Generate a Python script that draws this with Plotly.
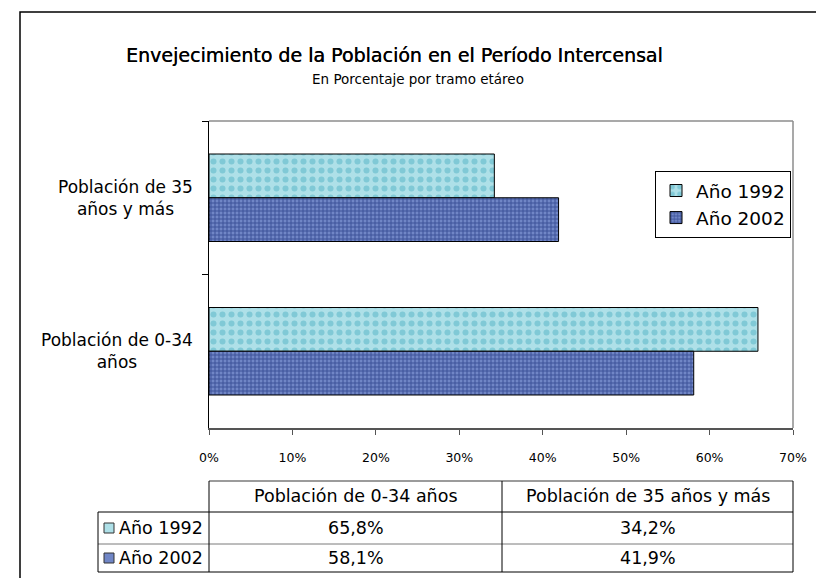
import plotly.graph_objects as go

# ---- data ----
categories = ["Población de 0-34 años", "Población de 35 años y más"]
series_names = ["Año 1992", "Año 2002"]
values_1992 = [65.8, 34.2]
values_2002 = [58.1, 41.9]
x_ticks = [0, 10, 20, 30, 40, 50, 60, 70]
title_text = "Envejecimiento de la Población en el Período Intercensal"
subtitle_text = "En Porcentaje por tramo etáreo"
y_label_lines = {"Población de 0-34 años": "Población de 0-34<br>años",
                 "Población de 35 años y más": "Población de 35<br>años y más"}

W, H = 824, 578
L, R, T, B = 201, 785, 113, 420  # plot area in pixels
FONT = "DejaVu Sans"

def xp(px):
    return (px - L) / (R - L)

def yp(py):
    return (B - py) / (B - T)

styles = [
    dict(bg="#aee0e8", fg="#80c9d6", shape=".", size=9, solidity=0.35),
    dict(bg="#7086c6", fg="#3d5299", shape="+", size=4, solidity=0.45),
]

fig = go.Figure()
for name, vals, st in zip(series_names, [values_1992, values_2002], styles):
    fig.add_trace(go.Bar(
        y=categories, x=vals, name=name, orientation="h",
        marker=dict(color=st["bg"], line=dict(color="black", width=1),
                    pattern=dict(shape=st["shape"], fgcolor=st["fg"], bgcolor=st["bg"],
                                 size=st["size"], solidity=st["solidity"], fillmode="replace")),
        hoverinfo="skip",
    ))

shapes = []
annotations = []

# outer frame
shapes.append(dict(type="rect", xref="paper", yref="paper",
                   x0=xp(12), x1=xp(819), y0=yp(4), y1=yp(640),
                   line=dict(color="black", width=1.5), fillcolor="rgba(0,0,0,0)", layer="above"))
# plot area top/right border (gray)
shapes.append(dict(type="line", xref="paper", yref="paper", x0=0, x1=1, y0=1, y1=1,
                   line=dict(color="#8c8c8c", width=1.5)))
shapes.append(dict(type="line", xref="paper", yref="paper", x0=1, x1=1, y0=0, y1=1,
                   line=dict(color="#8c8c8c", width=1.5)))

# titles
annotations.append(dict(text=title_text, xref="paper", yref="paper", x=xp(386), y=yp(47),
                        showarrow=False,
                        font=dict(family=FONT, size=19, color="black", shadow="0.3px 0px 0px black"),
                        xanchor="center", yanchor="middle"))
annotations.append(dict(text=subtitle_text, xref="paper", yref="paper", x=xp(410), y=yp(71),
                        showarrow=False, font=dict(family=FONT, size=13.5, color="black"),
                        xanchor="center", yanchor="middle"))

# y category labels (centered multi-line)
for c in categories:
    annotations.append(dict(text=y_label_lines[c], xref="paper", yref="y", x=xp(187), y=c,
                            showarrow=False, xanchor="right", yanchor="middle", align="center",
                            font=dict(family=FONT, size=17, color="black")))

# ---- data table ----
tx0, tlab, tmid, tx1 = 90, 201, 494, 785
ty0, ty1, ty2, ty3 = 473, 504, 536, 564
def hline(x0, x1, y, color="black", w=1):
    shapes.append(dict(type="line", xref="paper", yref="paper", x0=xp(x0), x1=xp(x1),
                       y0=yp(y), y1=yp(y), line=dict(color=color, width=w)))
def vline(x, y0, y1, color="black", w=1):
    shapes.append(dict(type="line", xref="paper", yref="paper", x0=xp(x), x1=xp(x),
                       y0=yp(y0), y1=yp(y1), line=dict(color=color, width=w)))
hline(tlab, tx1, ty0, "#7a7a7a", 1.5)
hline(tx0, tx1, ty1)
hline(tx0, tx1, ty2, "#7a7a7a", 1)
hline(tx0, tx1, ty3)
vline(tx0, ty1, ty3)
vline(tlab, ty0, ty3)
vline(tmid, ty0, ty3)
vline(tx1, ty0, ty3)

TFS = 17.5
col_centers = [(tlab + tmid) / 2, (tmid + tx1) / 2]
for cc, c in zip(col_centers, categories):
    annotations.append(dict(text=c, xref="paper", yref="paper", x=xp(cc), y=yp((ty0 + ty1) / 2),
                            showarrow=False, xanchor="center", yanchor="middle",
                            font=dict(family=FONT, size=TFS, color="black")))
row_centers = [(ty1 + ty2) / 2, (ty2 + ty3) / 2]
for rc, name, vals, st in zip(row_centers, series_names, [values_1992, values_2002], styles):
    shapes.append(dict(type="rect", xref="paper", yref="paper",
                       x0=xp(96), x1=xp(106), y0=yp(rc - 5), y1=yp(rc + 5),
                       fillcolor=st["bg"], line=dict(color="#333333", width=1)))
    annotations.append(dict(text=name, xref="paper", yref="paper", x=xp(109), y=yp(rc),
                            showarrow=False, xanchor="left", yanchor="middle",
                            font=dict(family=FONT, size=TFS, color="black")))
    for cc, v in zip(col_centers, vals):
        annotations.append(dict(text=f"{v:.1f}".replace(".", ",") + "%", xref="paper", yref="paper",
                                x=xp(cc), y=yp(rc), showarrow=False, xanchor="center", yanchor="middle",
                                font=dict(family=FONT, size=TFS, color="black")))

fig.update_layout(
    width=W, height=H,
    margin=dict(l=L, r=W - R, t=T, b=H - B, pad=0),
    paper_bgcolor="white", plot_bgcolor="white",
    barmode="group", bargap=0.43, bargroupgap=0,
    font=dict(family=FONT, color="black"),
    showlegend=True,
    legend=dict(x=xp(647), y=yp(163), xanchor="left", yanchor="top",
                bgcolor="white", bordercolor="black", borderwidth=1,
                font=dict(family=FONT, size=18.5, color="black"),
                tracegroupgap=0, itemwidth=30),
    xaxis=dict(range=[0, 70], tickvals=x_ticks, ticktext=[f"{t}%" for t in x_ticks],
               showgrid=False, zeroline=False, showline=True, linecolor="#555555", linewidth=2,
               ticks="outside", ticklen=5, tickcolor="#555555", tickwidth=1,
               tickfont=dict(family=FONT, size=12.5, color="black"), ticklabelstandoff=12,
               fixedrange=True),
    yaxis=dict(categoryorder="array", categoryarray=categories[::-1], autorange="reversed",
               showgrid=False, zeroline=False, showline=True, linecolor="black", linewidth=1,
               ticks="outside", ticklen=6, tickcolor="black", tickson="boundaries",
               showticklabels=False, fixedrange=True),
    shapes=shapes, annotations=annotations,
)

fig.write_html("out.html")
